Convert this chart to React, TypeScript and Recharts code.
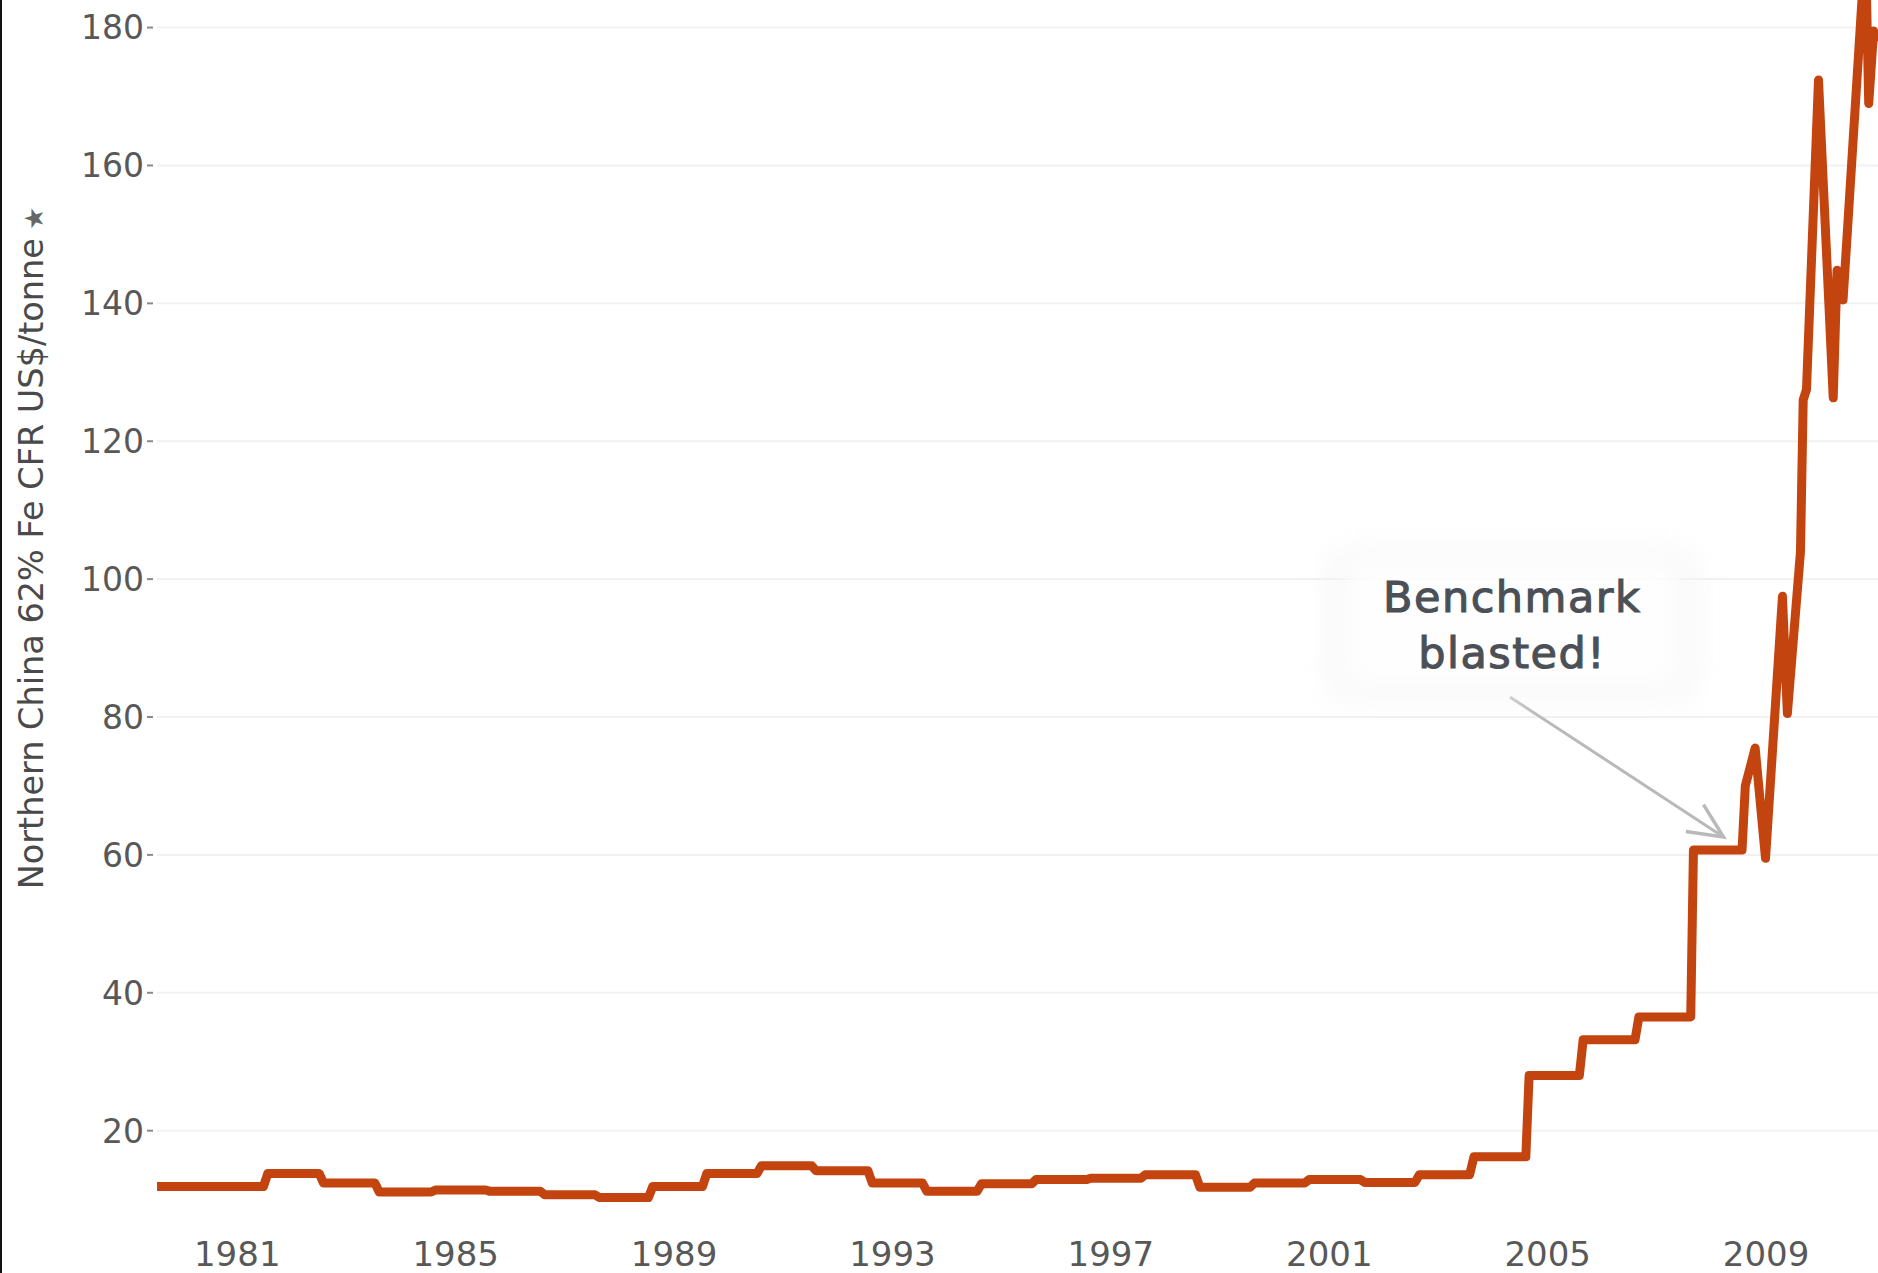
import React from 'react';
import { LineChart, Line, XAxis, YAxis, CartesianGrid, ReferenceLine, ReferenceDot } from 'recharts';

const FONT = "'DejaVu Sans', 'Open Sans', sans-serif";

// decimal year of each point of the series
const years = [
  1979.53, 1981.48, 1981.56, 1982.5, 1982.58, 1983.52, 1983.6, 1984.55, 1984.63, 1985.55,
  1985.63, 1986.55, 1986.63, 1987.55, 1987.63, 1988.53, 1988.61, 1989.52, 1989.6, 1990.52,
  1990.6, 1991.52, 1991.6, 1992.55, 1992.63, 1993.55, 1993.63, 1994.55, 1994.63, 1995.55,
  1995.63, 1996.55, 1996.63, 1997.55, 1997.63, 1998.55, 1998.63, 1999.55, 1999.63, 2000.55,
  2000.63, 2001.57, 2001.65, 2002.57, 2002.65, 2003.57, 2003.65, 2004.6, 2004.66, 2005.58,
  2005.65, 2006.6, 2006.67, 2007.62, 2007.67, 2008.56, 2008.62, 2008.8, 2008.99, 2009.3,
  2009.39, 2009.63, 2009.68, 2009.74, 2009.96, 2010.23, 2010.3, 2010.41, 2010.82, 2010.88,
  2010.97, 2011.05,
];

// US$/tonne
const prices = [
  11.9, 11.9, 13.8, 13.8, 12.4, 12.4, 11.1, 11.1, 11.4, 11.4,
  11.2, 11.2, 10.7, 10.7, 10.3, 10.3, 11.9, 11.9, 13.8, 13.8,
  14.9, 14.9, 14.2, 14.2, 12.4, 12.4, 11.2, 11.2, 12.3, 12.3,
  12.9, 12.9, 13.1, 13.1, 13.6, 13.6, 11.8, 11.8, 12.4, 12.4,
  12.9, 12.9, 12.5, 12.5, 13.6, 13.6, 16.2, 16.2, 28.0, 28.0,
  33.2, 33.2, 36.5, 36.5, 60.7, 60.7, 70.0, 75.5, 59.5, 97.5,
  80.5, 104.0, 126.0, 127.5, 172.4, 126.3, 144.8, 140.5, 192.0, 169.0,
  179.5, 178.0,
];

const xTicks = [1981, 1985, 1989, 1993, 1997, 2001, 2005, 2009];
const yTicks = [20, 40, 60, 80, 100, 120, 140, 160, 180];
const yAxisTitle = 'Northern China 62% Fe CFR US$/tonne';
const annotationLines = ['Benchmark', 'blasted!'];
const annotationAt = { year: 2004.35, price: 95.2 };
const arrowFrom = { year: 2004.31, price: 82.9 };
const arrowTo = { year: 2008.22, price: 62.6 };

const data = years.map((y, i) => ({ year: y, price: prices[i] }));

const YTick = (props: any) => {
  const { x, y, payload } = props;
  return (
    <g>
      <text x={x - 13} y={y} dy="0.36em" textAnchor="end" fontSize={33} fill="#585858" fontFamily={FONT}>
        {payload.value}
      </text>
      <line x1={x - 10} x2={x - 4} y1={y} y2={y} stroke="#8a8a8a" strokeWidth={2} />
    </g>
  );
};

const YTitle = () => (
  <text
    x={43}
    y={548}
    transform="rotate(-90 43 548)"
    textAnchor="middle"
    fontSize={33.5}
    fill="#4a4a4a"
    fontFamily={FONT}
  >
    {yAxisTitle}
    <tspan fontSize={26} fill="#666" dx={8}>★</tspan>
  </text>
);

const ArrowShape = (props: any) => {
  const { x1, y1, x2, y2 } = props;
  const ang = Math.atan2(y2 - y1, x2 - x1);
  const len = 38;
  const spread = (25 * Math.PI) / 180;
  const ax = x2 - len * Math.cos(ang - spread);
  const ay = y2 - len * Math.sin(ang - spread);
  const bx = x2 - len * Math.cos(ang + spread);
  const by = y2 - len * Math.sin(ang + spread);
  return (
    <g>
      <line x1={x1} y1={y1} x2={x2} y2={y2} stroke="#b9b9b9" strokeWidth={3} />
      <polyline
        points={`${ax},${ay} ${x2},${y2} ${bx},${by}`}
        fill="none"
        stroke="#b9b9b9"
        strokeWidth={3.5}
        strokeLinejoin="miter"
      />
    </g>
  );
};

const AnnotationShape = (props: any) => {
  const { cx, cy } = props;
  return (
    <g>
      <defs>
        <filter id="glow" x="-30%" y="-40%" width="160%" height="180%">
          <feGaussianBlur stdDeviation="14" />
        </filter>
      </defs>
      <rect x={cx - 185} y={cy - 62} width={370} height={150} rx={20} fill="#e9e9e9" opacity={0.35} filter="url(#glow)" />
      <rect x={cx - 170} y={cy - 52} width={340} height={128} rx={16} fill="#ffffff" opacity={0.9} filter="url(#glow)" />
      {annotationLines.map((t, i) => (
        <text
          key={t}
          x={cx}
          y={cy + i * 56}
          textAnchor="middle"
          fontSize={43}
          letterSpacing={1.5}
          fill="#4b5056"
          stroke="#4b5056"
          strokeWidth={1.1}
          fontFamily={FONT}
        >
          {t}
        </text>
      ))}
    </g>
  );
};

export default function App() {
  return (
    <div style={{ position: 'absolute', left: 0, top: 0, width: 1878, height: 1273, background: '#fff' }}>
      <LineChart width={1878} height={1273} data={data} margin={{ top: 0, right: 0, bottom: 0, left: 0 }}>
        <CartesianGrid horizontal vertical={false} horizontalValues={yTicks} stroke="#f1f1f1" strokeWidth={2} />
        <XAxis
          dataKey="year"
          type="number"
          domain={[1979.53, 2011.05]}
          allowDataOverflow
          ticks={xTicks}
          interval={0}
          tickLine={false}
          axisLine={false}
          tickSize={0}
          tickMargin={28}
          height={59.6}
          tick={{ fontSize: 34, fill: '#585858', fontFamily: FONT }}
        />
        <YAxis
          type="number"
          domain={[8, 184]}
          allowDataOverflow
          ticks={yTicks}
          interval={0}
          width={157}
          tickLine={false}
          axisLine={false}
          tickSize={0}
          tickMargin={0}
          tick={<YTick />}
          label={{ content: () => <YTitle /> }}
        />
        <ReferenceDot
          x={annotationAt.year}
          y={annotationAt.price}
          r={0}
          shape={(p: any) => <AnnotationShape {...p} />}
        />
        <ReferenceLine
          segment={[
            { x: arrowFrom.year, y: arrowFrom.price },
            { x: arrowTo.year, y: arrowTo.price },
          ]}
          shape={(p: any) => <ArrowShape {...p} />}
        />
        <Line
          type="linear"
          dataKey="price"
          stroke="#c4440f"
          strokeWidth={9}
          strokeLinejoin="round"
          strokeLinecap="butt"
          dot={false}
          activeDot={false}
          isAnimationActive={false}
        />
      </LineChart>
      <div style={{ position: 'absolute', left: 0, top: 0, width: 2, height: 1273, background: '#111' }} />
    </div>
  );
}
